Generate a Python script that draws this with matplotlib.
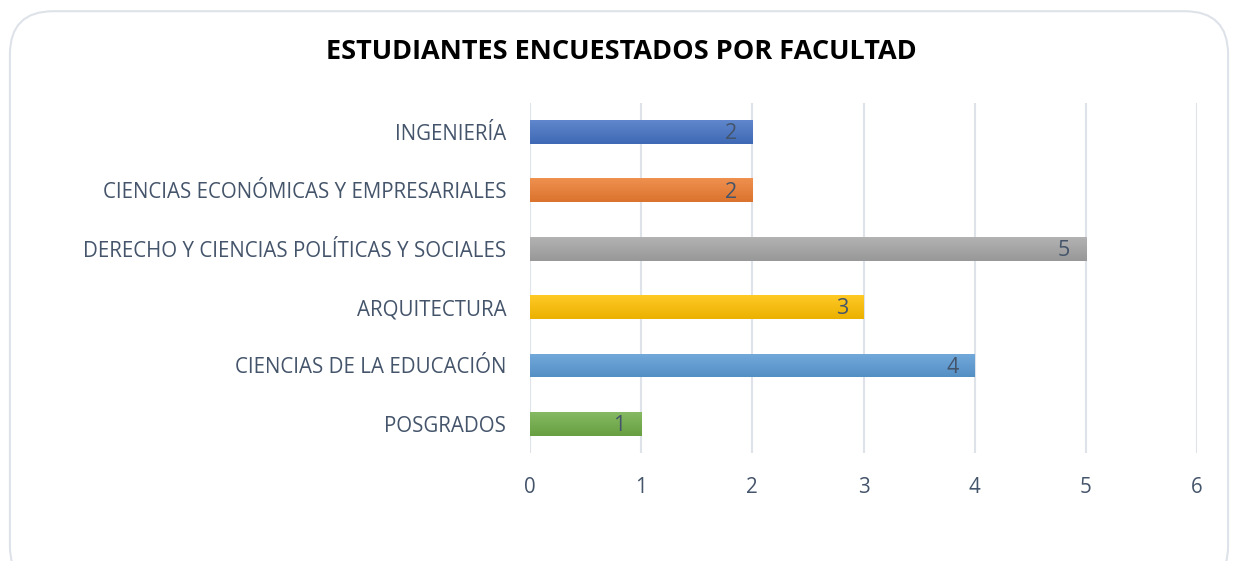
import numpy as np
import matplotlib.pyplot as plt
from matplotlib.patches import FancyBboxPatch
from matplotlib.colors import to_rgb

categories = ["INGENIERÍA", "CIENCIAS ECONÓMICAS Y EMPRESARIALES",
              "DERECHO Y CIENCIAS POLÍTICAS Y SOCIALES", "ARQUITECTURA",
              "CIENCIAS DE LA EDUCACIÓN", "POSGRADOS"]
values = [2, 2, 5, 3, 4, 1]
colors = ["#4472C4", "#ED7D31", "#A5A5A5", "#FFC000", "#5B9BD5", "#70AD47"]
xticks = [0, 1, 2, 3, 4, 5, 6]

plt.rcParams['font.family'] = ['Open Sans', 'DejaVu Sans']
text_color = "#44546A"
grid_color = "#DEE2E9"

fig = plt.figure(figsize=(12.38, 5.61), dpi=100)
border = FancyBboxPatch((0.008, -0.05), 0.984, 1.03, boxstyle="round,pad=0,rounding_size=0.035",
                        transform=fig.transFigure, facecolor="none", edgecolor=grid_color,
                        linewidth=1.5, mutation_aspect=1238 / 561, zorder=-1)
fig.patches.append(border)

ax = fig.add_axes([0.428, 0.1925, 0.539, 0.624])
ax.patch.set_alpha(0)
y = np.arange(len(categories))[::-1]
bars = ax.barh(y, values, height=0.41, color=colors, zorder=2)


def lighten(c, f):
    r = np.array(to_rgb(c))
    return r + (1 - r) * f


def darken(c, f):
    return np.array(to_rgb(c)) * (1 - f)


# vertical gradient inside each bar, lighter at the top
for b, c in zip(bars, colors):
    x0, y0, w, h = b.get_x(), b.get_y(), b.get_width(), b.get_height()
    top = lighten(c, 0.15)
    bot = darken(c, 0.08)
    grad = np.linspace(0, 1, 64)[:, None, None]
    img = top * (1 - grad) + bot * grad
    im = ax.imshow(img, extent=(x0, x0 + w, y0, y0 + h), origin='upper', aspect='auto',
                   zorder=3, interpolation='bilinear')
    im.set_clip_path(b)
    b.set_alpha(0)

for yi, v in zip(y, values):
    ax.text(v - 0.14, yi - 0.03, str(v), ha='right', va='center', fontsize=15.5,
            color=text_color, zorder=4)

ax.set_xlim(0, 6)
ax.set_ylim(-0.5, len(categories) - 0.5)
ax.set_xticks(xticks)
ax.set_yticks(y)
ax.set_yticklabels(categories)
ax.xaxis.grid(True, color=grid_color, linewidth=1.5, zorder=0)
ax.set_axisbelow(True)
for s in ax.spines.values():
    s.set_visible(False)
ax.tick_params(axis='both', length=0, labelsize=14.8, labelcolor=text_color)
ax.tick_params(axis='x', pad=17)
ax.tick_params(axis='y', pad=17)

fig.text(0.5016, 0.908, "ESTUDIANTES ENCUESTADOS POR FACULTAD", ha='center', va='center',
         fontsize=19.5, fontweight='bold', color='black')

fig.savefig("out.png", dpi=100)
